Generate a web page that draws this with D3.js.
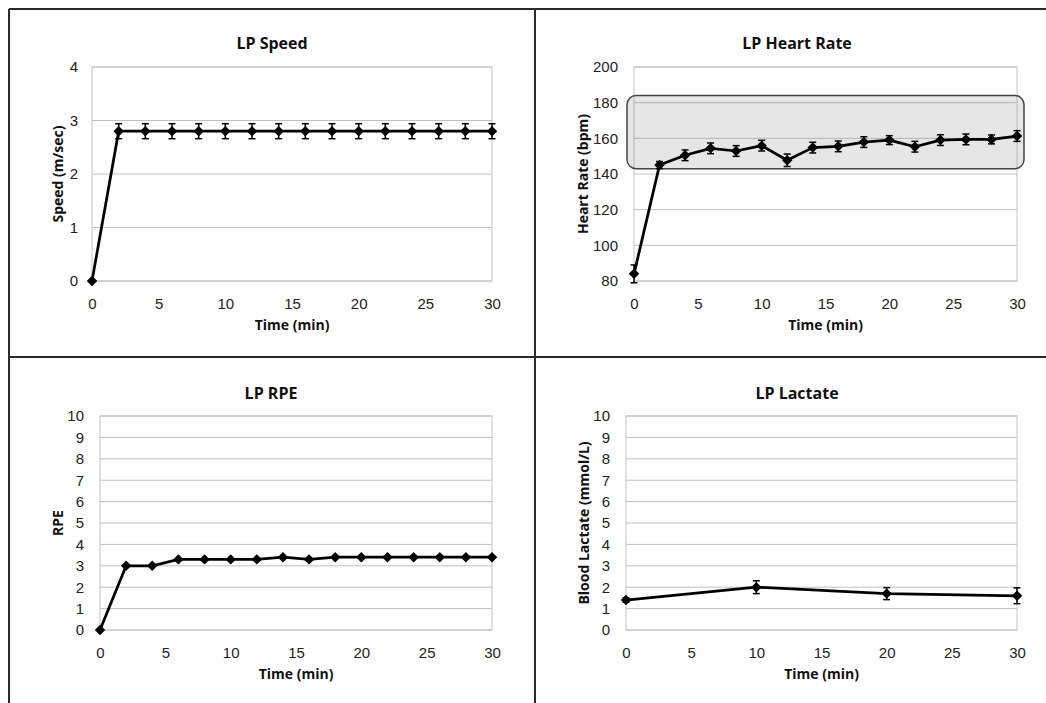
<!DOCTYPE html>
<html>
<head>
<meta charset="utf-8">
<script src="https://cdn.jsdelivr.net/npm/d3@7"></script>
<style>
  html, body { margin: 0; padding: 0; background: #fff; }
  svg { display: block; font-family: "Open Sans", sans-serif; }
  .tick text { font-size: 15px; fill: #222; }
  .chart-title { font-size: 16px; font-weight: bold; fill: #111; }
  .axis-title { font-size: 14px; font-weight: bold; fill: #111; }
</style>
</head>
<body>
<div id="chart"></div>
<script>
// Data
const timeFull = [0, 2, 4, 6, 8, 10, 12, 14, 16, 18, 20, 22, 24, 26, 28, 30];
const timeLactate = [0, 10, 20, 30];
const xTicks = [0, 5, 10, 15, 20, 25, 30];

const speedValues = [0, 2.8, 2.8, 2.8, 2.8, 2.8, 2.8, 2.8, 2.8, 2.8, 2.8, 2.8, 2.8, 2.8, 2.8, 2.8];
const speedErrors = [0, 0.14, 0.14, 0.14, 0.14, 0.14, 0.14, 0.14, 0.14, 0.14, 0.14, 0.14, 0.14, 0.14, 0.14, 0.14];

const hrValues = [84, 145, 150.5, 154.4, 152.9, 155.9, 147.7, 154.8, 155.5, 157.9, 159, 155.3, 159, 159.4, 159.4, 161.3];
const hrErrors = [5, 2, 3, 3, 3, 3, 3.5, 3, 3, 3, 2.5, 3, 3, 3, 2.5, 3];
const hrBand = [143, 184];

const rpeValues = [0, 3, 3, 3.3, 3.3, 3.3, 3.3, 3.4, 3.3, 3.4, 3.4, 3.4, 3.4, 3.4, 3.4, 3.4];

const lactateValues = [1.4, 2.0, 1.7, 1.6];
const lactateErrors = [0.1, 0.3, 0.28, 0.37];

const W = 1046, H = 703;

const svg = d3.select("#chart")
  .append("svg")
  .attr("width", W)
  .attr("height", H);

// Table frame lines
const frame = svg.append("g").attr("stroke", "#2a2a2a").attr("stroke-width", 2);
frame.append("line").attr("x1", 9).attr("x2", W).attr("y1", 9).attr("y2", 9);
frame.append("line").attr("x1", 9).attr("x2", 9).attr("y1", 9).attr("y2", H);
frame.append("line").attr("x1", 535).attr("x2", 535).attr("y1", 9).attr("y2", H);
frame.append("line").attr("x1", 9).attr("x2", W).attr("y1", 357).attr("y2", 357);

function drawPanel(cfg) {
  const x = d3.scaleLinear().domain([0, 30]).range([cfg.left, cfg.right]);
  const y = d3.scaleLinear().domain(cfg.yDomain).range([cfg.bottom, cfg.top]);
  const g = svg.append("g");

  // gridlines
  g.append("g")
    .selectAll("line")
    .data(cfg.yTicks)
    .join("line")
    .attr("x1", cfg.left).attr("x2", cfg.right)
    .attr("y1", (d) => y(d)).attr("y2", (d) => y(d))
    .attr("stroke", "#c0c0c0").attr("stroke-width", 1);

  // plot border
  g.append("rect")
    .attr("x", cfg.left).attr("y", cfg.top)
    .attr("width", cfg.right - cfg.left).attr("height", cfg.bottom - cfg.top)
    .attr("fill", "none").attr("stroke", "#c4c4c4");

  // axes (labels only)
  const xAxis = g.append("g")
    .attr("transform", `translate(0,${cfg.bottom})`)
    .call(d3.axisBottom(x).tickValues(xTicks).tickSize(0).tickPadding(17));
  xAxis.select(".domain").remove();

  const yAxis = g.append("g")
    .attr("transform", `translate(${cfg.left},0)`)
    .call(d3.axisLeft(y).tickValues(cfg.yTicks).tickFormat(d3.format("d")).tickSize(0).tickPadding(cfg.yPad));
  yAxis.select(".domain").remove();
  g.selectAll(".tick text").attr("font-family", null);

  // highlight band
  if (cfg.band) {
    g.append("rect")
      .attr("x", cfg.left - 7)
      .attr("y", y(cfg.band[1]))
      .attr("width", cfg.right - cfg.left + 14)
      .attr("height", y(cfg.band[0]) - y(cfg.band[1]))
      .attr("rx", 9).attr("ry", 9)
      .attr("fill", "#808080").attr("fill-opacity", 0.2)
      .attr("stroke", "#444").attr("stroke-width", 1.5);
  }

  const pts = cfg.time.map((t, i) => ({ t, v: cfg.values[i], e: cfg.errors ? cfg.errors[i] : 0 }));

  // error bars
  if (cfg.errors) {
    const eb = g.append("g").attr("stroke", "#000").attr("stroke-width", 1.5);
    const withErr = pts.filter((d) => d.e > 0);
    eb.selectAll(".stem").data(withErr).join("line")
      .attr("x1", (d) => x(d.t)).attr("x2", (d) => x(d.t))
      .attr("y1", (d) => y(d.v - d.e)).attr("y2", (d) => y(d.v + d.e));
    eb.selectAll(".capTop").data(withErr).join("line")
      .attr("x1", (d) => x(d.t) - 3.5).attr("x2", (d) => x(d.t) + 3.5)
      .attr("y1", (d) => y(d.v + d.e)).attr("y2", (d) => y(d.v + d.e));
    eb.selectAll(".capBot").data(withErr).join("line")
      .attr("x1", (d) => x(d.t) - 3.5).attr("x2", (d) => x(d.t) + 3.5)
      .attr("y1", (d) => y(d.v - d.e)).attr("y2", (d) => y(d.v - d.e));
  }

  // line
  g.append("path")
    .datum(pts)
    .attr("fill", "none")
    .attr("stroke", "#000")
    .attr("stroke-width", 2.75)
    .attr("stroke-linejoin", "round")
    .attr("d", d3.line().x((d) => x(d.t)).y((d) => y(d.v)));

  // diamond markers
  g.append("g")
    .selectAll("path")
    .data(pts)
    .join("path")
    .attr("d", d3.symbol().type(d3.symbolSquare).size(55))
    .attr("transform", (d) => `translate(${x(d.t)},${y(d.v)}) rotate(45)`)
    .attr("fill", "#000");

  // titles
  g.append("text").attr("class", "chart-title")
    .attr("x", cfg.titleX).attr("y", cfg.titleY)
    .attr("text-anchor", "middle").text(cfg.title);

  g.append("text").attr("class", "axis-title")
    .attr("x", (cfg.left + cfg.right) / 2).attr("y", cfg.bottom + 49)
    .attr("text-anchor", "middle").text("Time (min)");

  g.append("text").attr("class", "axis-title")
    .attr("transform", `translate(${cfg.yTitleX},${(cfg.top + cfg.bottom) / 2}) rotate(-90)`)
    .attr("text-anchor", "middle")
    .attr("dominant-baseline", "central")
    .text(cfg.yTitle);
}

drawPanel({
  title: "LP Speed", titleX: 272, titleY: 49,
  left: 92, right: 492, top: 67, bottom: 281,
  yDomain: [0, 4], yTicks: [0, 1, 2, 3, 4], yPad: 14,
  yTitle: "Speed (m/sec)", yTitleX: 57,
  time: timeFull, values: speedValues, errors: speedErrors
});

drawPanel({
  title: "LP Heart Rate", titleX: 797, titleY: 49,
  left: 634, right: 1017, top: 67, bottom: 281,
  yDomain: [80, 200], yTicks: [80, 100, 120, 140, 160, 180, 200], yPad: 16,
  yTitle: "Heart Rate (bpm)", yTitleX: 582,
  time: timeFull, values: hrValues, errors: hrErrors, band: hrBand
});

drawPanel({
  title: "LP RPE", titleX: 271, titleY: 399,
  left: 100, right: 492, top: 416, bottom: 630,
  yDomain: [0, 10], yTicks: d3.range(0, 11), yPad: 16,
  yTitle: "RPE", yTitleX: 57,
  time: timeFull, values: rpeValues, errors: null
});

drawPanel({
  title: "LP Lactate", titleX: 797, titleY: 399,
  left: 626, right: 1017, top: 416, bottom: 630,
  yDomain: [0, 10], yTicks: d3.range(0, 11), yPad: 16,
  yTitle: "Blood Lactate (mmol/L)", yTitleX: 583,
  time: timeLactate, values: lactateValues, errors: lactateErrors
});
</script>
</body>
</html>
